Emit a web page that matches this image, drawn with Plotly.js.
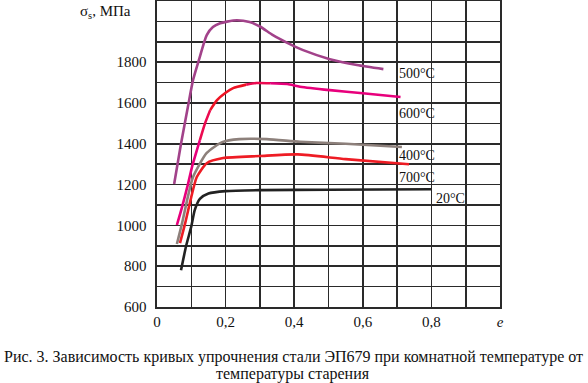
<!DOCTYPE html>
<html>
<head>
<meta charset="utf-8">
<script src="https://cdn.plot.ly/plotly-3.0.1.min.js"></script>
<style>html,body{margin:0;padding:0;background:#fff;}#chart{width:588px;height:383px;}</style>
</head>
<body>
<div id="chart"></div>
<script>
// strain e and flow stress σs (MPa) per ageing temperature
const e20  = [0.07, 0.085, 0.1, 0.11, 0.125, 0.15, 0.2, 0.3, 0.5, 0.8];
const s20  = [780, 900, 995, 1075, 1130, 1156, 1168, 1173, 1175, 1177];
const e700 = [0.067, 0.082, 0.1, 0.116, 0.145, 0.193, 0.3, 0.41, 0.55, 0.735];
const s700 = [913, 1010, 1140, 1237, 1305, 1330, 1340, 1348, 1325, 1300];
const e400 = [0.058, 0.073, 0.09, 0.105, 0.145, 0.19, 0.24, 0.32, 0.417, 0.55, 0.714];
const s400 = [909, 1010, 1140, 1237, 1355, 1408, 1423, 1423, 1410, 1400, 1384];
const e600 = [0.058, 0.073, 0.09, 0.102, 0.125, 0.14, 0.155, 0.175, 0.2, 0.222, 0.26, 0.29, 0.33, 0.38, 0.417, 0.504, 0.6, 0.71];
const s600 = [1002, 1090, 1200, 1286, 1418, 1500, 1565, 1614, 1650, 1673, 1690, 1698, 1697, 1693, 1680, 1663, 1648, 1629];
const e500 = [0.05, 0.07, 0.09, 0.105, 0.122, 0.145, 0.163, 0.184, 0.204, 0.233, 0.27, 0.3, 0.338, 0.38, 0.426, 0.504, 0.583, 0.66];
const s500 = [1203, 1400, 1580, 1712, 1810, 1933, 1972, 1991, 1999, 2006, 1997, 1975, 1933, 1895, 1859, 1815, 1786, 1766];

const xTickVals = [0, 0.1, 0.2, 0.3, 0.4, 0.5, 0.6, 0.7, 0.8, 0.9, 1.0];
const xTickText = ['0', '', '0,2', '', '0,4', '', '0,6', '', '0,8', '', '<i>e</i>'];
const yTickVals = [600, 700, 800, 900, 1000, 1100, 1200, 1300, 1400, 1500, 1600, 1700, 1800, 1900, 2000, 2100];
const yTickText = ['600', '', '800', '', '1000', '', '1200', '', '1400', '', '1600', '', '1800', '', '', ''];
const curveLabels = ['500°C', '600°C', '400°C', '700°C', '20°C'];

function line(x, y, color) {
  return {x: x, y: y, type: 'scatter', mode: 'lines', hoverinfo: 'skip',
          line: {color: color, width: 2.6, shape: 'spline', smoothing: 0.6}};
}
// 600°C curve drawn in segments to mimic its pink→red→pink gradient
const seg = (a, b) => [e600.slice(a, b + 1), s600.slice(a, b + 1)];
const p1 = seg(0, 4), p2 = seg(4, 6), p3 = seg(6, 10), p4 = seg(10, 12), p5 = seg(12, 17);

const traces = [
  line(e20, s20, '#222222'),
  line(e700, s700, '#ee1c24'),
  line(e400, s400, '#8d807b'),
  line(p1[0], p1[1], '#e8007c'),
  line(p2[0], p2[1], '#ec0a50'),
  line(p3[0], p3[1], '#ee1424'),
  line(p4[0], p4[1], '#ec0a50'),
  line(p5[0], p5[1], '#e8007c'),
  line(e500, s500, '#a2428a')
];

const serif = '"Liberation Serif", "Times New Roman", serif';
const labelPos = [[0.70, 1747], [0.70, 1551], [0.70, 1345], [0.70, 1237], [0.808, 1134]];
const annotations = curveLabels.map((t, i) => ({
  x: labelPos[i][0], y: labelPos[i][1], xref: 'x', yref: 'y', text: t,
  showarrow: false, xanchor: 'left', yanchor: 'middle',
  font: {family: serif, size: 14, color: '#111'}
}));
annotations.push({xref: 'paper', yref: 'paper', x: -0.07, y: 0.964, xanchor: 'right', yanchor: 'middle',
  text: 'σ<sub>s</sub>, МПа', showarrow: false, font: {family: serif, size: 15, color: '#111'}});
annotations.push({xref: 'paper', yref: 'paper', x: 0.397, y: -0.162, xanchor: 'center', yanchor: 'middle',
  text: 'Рис. 3. Зависимость кривых упрочнения стали ЭП679 при комнатной температуре от', showarrow: false,
  font: {family: serif, size: 16, color: '#111'}});
annotations.push({xref: 'paper', yref: 'paper', x: 0.397, y: -0.218, xanchor: 'center', yanchor: 'middle',
  text: 'температуры старения', showarrow: false, font: {family: serif, size: 16, color: '#111'}});

const layout = {
  width: 588, height: 383,
  margin: {l: 157, r: 88, t: 1, b: 76},
  paper_bgcolor: '#fff', plot_bgcolor: '#fff',
  showlegend: false,
  font: {family: serif, size: 15, color: '#111'},
  xaxis: {range: [0, 1], tickmode: 'array', tickvals: xTickVals, ticktext: xTickText,
          showgrid: true, gridcolor: '#2a2a2a', gridwidth: 1.6, zeroline: false,
          showline: true, linecolor: '#2a2a2a', linewidth: 1.6, mirror: true,
          ticks: '', ticklabelstandoff: 0, tickfont: {family: serif, size: 15, color: '#111'}},
  yaxis: {range: [600, 2100], tickmode: 'array', tickvals: yTickVals, ticktext: yTickText,
          showgrid: true, gridcolor: '#2a2a2a', gridwidth: 1.6, zeroline: false,
          showline: true, linecolor: '#2a2a2a', linewidth: 1.6, mirror: true,
          ticks: '', ticklabelstandoff: 6, tickfont: {family: serif, size: 15, color: '#111'}},
  annotations: annotations
};

Plotly.newPlot('chart', traces, layout, {staticPlot: true, displayModeBar: false});
</script>
</body>
</html>
